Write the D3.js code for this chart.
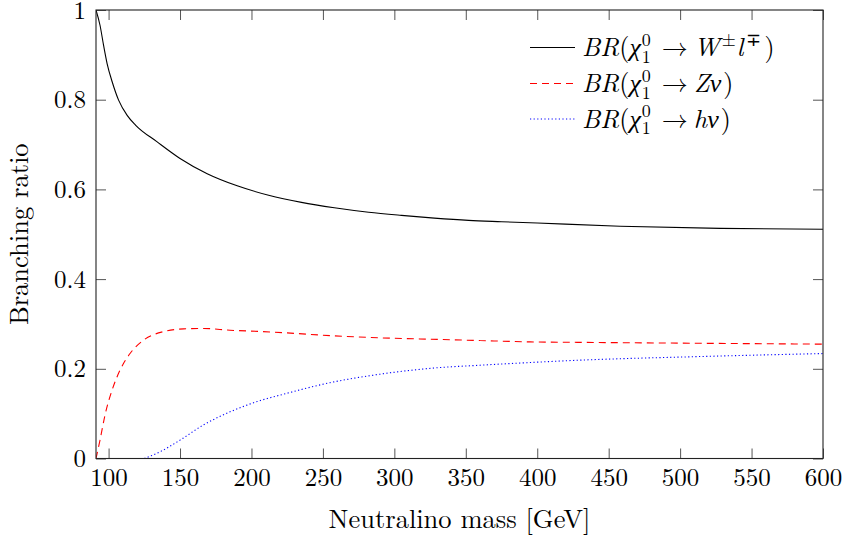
<!DOCTYPE html>
<html>
<head>
<meta charset="utf-8">
<script src="https://cdn.jsdelivr.net/npm/d3@7"></script>
<style>
  body { margin: 0; background: #fff; }
</style>
</head>
<body>
<svg id="chart" width="845" height="538"></svg>
<script>
"use strict";

const width = 845;
const height = 538;
const margin = { top: 10, right: 22, bottom: 79.5, left: 96 };
const innerWidth = width - margin.left - margin.right;
const innerHeight = height - margin.top - margin.bottom;
const fontFamily = "'Latin Modern Roman', 'Liberation Serif', serif";

// neutralino mass [GeV] and branching ratios
const massW = [91.19, 94, 96.5, 99, 102.5, 107, 113, 119, 134, 150, 169, 190, 212, 235, 258, 282, 305, 328, 352, 375, 400, 458, 528, 600];
const brW = [1.0, 0.966, 0.921, 0.880, 0.840, 0.799, 0.765, 0.743, 0.706, 0.669, 0.635, 0.608, 0.587, 0.571, 0.559, 0.549, 0.542, 0.536, 0.531, 0.528, 0.525, 0.518, 0.513, 0.511];

const massZ = [91.19, 94, 97.5, 102.5, 108, 115, 124.5, 138.5, 152.5, 166.5, 185, 208, 225, 255, 290, 325, 360, 395, 428, 510, 600];
const brZ = [0, 0.041, 0.097, 0.153, 0.197, 0.234, 0.264, 0.283, 0.289, 0.290, 0.286, 0.283, 0.280, 0.274, 0.269, 0.266, 0.263, 0.260, 0.259, 0.257, 0.255];

const massH = [125, 136, 150, 166.5, 185, 204, 222, 255, 290, 325, 360, 395, 428, 510, 600];
const brH = [0, 0.015, 0.041, 0.075, 0.104, 0.127, 0.143, 0.169, 0.188, 0.201, 0.208, 0.214, 0.219, 0.227, 0.234];

const xTicks = [100, 150, 200, 250, 300, 350, 400, 450, 500, 550, 600];
const yTicks = [0, 0.2, 0.4, 0.6, 0.8, 1];

// label pieces: [text, kind, gap before]
const head = [["BR", "i", 0], ["(", "", 0], ["χ", "i", 0], ["0", "sup", 1], ["1", "sub", 1], ["→", "arrow", 11]];
const series = [
    { mass: massW, br: brW, color: "#000", dash: null,
      label: head.concat([["W", "i", 6], ["±", "sup", 2], ["l", "i", 1], ["∓", "sup", 2], [")", "", 4]]) },
    { mass: massZ, br: brZ, color: "#ff0000", dash: "7,5",
      label: head.concat([["Zν", "i", 6], [")", "", 2]]) },
    { mass: massH, br: brH, color: "#0000ff", dash: "1.2,2.4",
      label: head.concat([["hν", "i", 6], [")", "", 2]]) }
];

const svg = d3.select("#chart").attr("font-family", fontFamily);
const plot = svg.append("g")
    .attr("transform", `translate(${margin.left},${margin.top})`);

const xScale = d3.scaleLinear().domain([91.19, 600]).range([0, innerWidth]);
const yScale = d3.scaleLinear().domain([0, 1]).range([innerHeight, 0]);

function styleAxis(g) {
    g.attr("font-family", fontFamily).attr("font-size", 25);
    g.select(".domain").remove();
    g.selectAll(".tick line").attr("stroke", "#555").attr("stroke-width", 1);
    g.selectAll(".tick text").attr("fill", "#000");
}
function noLabels(g) {
    g.selectAll(".tick text").remove();
}

// bottom + top ticks (inside)
plot.append("g")
    .attr("transform", `translate(0,${innerHeight})`)
    .call(d3.axisBottom(xScale).tickValues(xTicks).tickSizeInner(-10).tickSizeOuter(0).tickPadding(10))
    .call(styleAxis);
plot.append("g")
    .call(d3.axisTop(xScale).tickValues(xTicks).tickSizeInner(-10).tickSizeOuter(0))
    .call(styleAxis).call(noLabels);
// left + right ticks
plot.append("g")
    .call(d3.axisLeft(yScale).tickValues(yTicks).tickSizeInner(-10).tickSizeOuter(0).tickPadding(10)
        .tickFormat(d => d === 0 || d === 1 ? d3.format("d")(d) : d3.format(".1f")(d)))
    .call(styleAxis);
plot.append("g")
    .attr("transform", `translate(${innerWidth},0)`)
    .call(d3.axisRight(yScale).tickValues(yTicks).tickSizeInner(-10).tickSizeOuter(0))
    .call(styleAxis).call(noLabels);

plot.append("clipPath").attr("id", "clip")
    .append("rect").attr("width", innerWidth).attr("height", innerHeight);

const line = d3.line()
    .x(d => xScale(d[0]))
    .y(d => yScale(d[1]))
    .curve(d3.curveMonotoneX);

series.forEach(s => {
    plot.append("path")
        .datum(d3.zip(s.mass, s.br))
        .attr("clip-path", "url(#clip)")
        .attr("fill", "none")
        .attr("stroke", s.color)
        .attr("stroke-width", 1.1)
        .attr("stroke-dasharray", s.dash)
        .attr("d", line);
});

// frame
plot.append("rect")
    .attr("width", innerWidth)
    .attr("height", innerHeight)
    .attr("fill", "none")
    .attr("stroke", "#222")
    .attr("stroke-width", 1.1);

// legend
function mathLabel(g, x, y, parts) {
    let cx = x;
    let supStart = null, supWidth = 0;
    parts.forEach(([t, kind, gap]) => {
        const small = kind === "sup" || kind === "sub";
        let px = cx + gap;
        if (kind === "sub" && supStart !== null) px = supStart;
        const el = g.append("text")
            .attr("x", px)
            .attr("y", y + (kind === "sup" ? -10.5 : kind === "sub" ? 6.5 : 0))
            .attr("font-size", small ? 18 : 26)
            .attr("font-style", kind === "i" ? "italic" : null)
            .attr("font-family", kind === "arrow" ? "'Latin Modern Math', 'DejaVu Serif', serif" : fontFamily)
            .attr("fill", "#000")
            .text(t);
        const w = el.node().getComputedTextLength();
        if (kind === "sup") { supStart = px; supWidth = w; cx = px + w; }
        else if (kind === "sub") { cx = Math.max(supStart + supWidth, px + w); supStart = null; }
        else { cx = px + w; supStart = null; }
    });
}

const legendY = [47.5, 83.5, 119];
const legend = svg.append("g");
series.forEach((s, i) => {
    legend.append("line")
        .attr("x1", 530).attr("x2", 575)
        .attr("y1", legendY[i]).attr("y2", legendY[i])
        .attr("stroke", s.color)
        .attr("stroke-width", 1.1)
        .attr("stroke-dasharray", s.dash);
    mathLabel(legend, 582, legendY[i] + 8.5, s.label);
});

// axis titles
svg.append("text")
    .attr("x", margin.left + innerWidth / 2)
    .attr("y", 528)
    .attr("text-anchor", "middle")
    .attr("font-size", 26.5)
    .text("Neutralino mass [GeV]");

svg.append("text")
    .attr("transform", `translate(28,${margin.top + innerHeight / 2}) rotate(-90)`)
    .attr("text-anchor", "middle")
    .attr("font-size", 26.5)
    .text("Branching ratio");
</script>
</body>
</html>
